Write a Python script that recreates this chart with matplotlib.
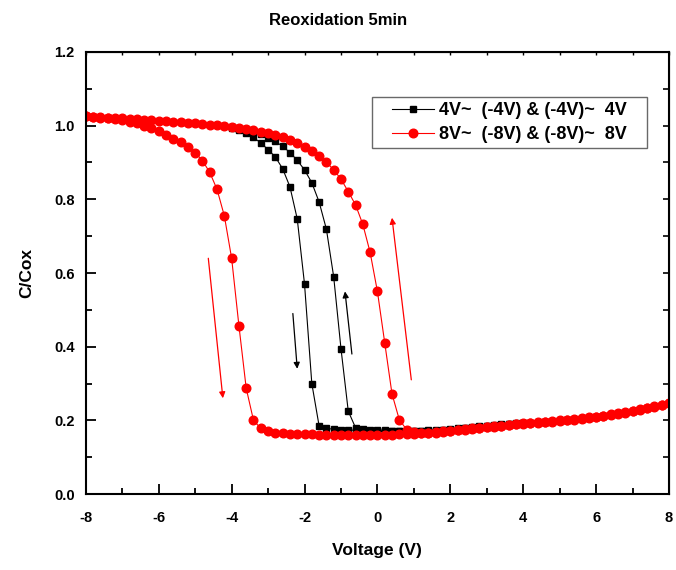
import numpy as np
import matplotlib
matplotlib.use("Agg")
from matplotlib import pyplot as plt
from matplotlib.legend_handler import HandlerLine2D

plt.rcParams['font.family'] = ['Liberation Sans', 'DejaVu Sans']
plt.rcParams['font.weight'] = 'bold'
plt.rcParams['axes.unicode_minus'] = False

# voltage sweep grids (0.2 V steps)
v_red = np.round(np.arange(-8.0, 8.01, 0.2), 1)
v_blk = np.round(np.arange(-4.0, 4.01, 0.2), 1)

# red: -8V -> 8V sweep (values at ascending voltage)
red_fwd = [1.025, 1.024, 1.022, 1.020, 1.017, 1.014, 1.010, 1.006, 1.000, 0.993,
           0.985, 0.975, 0.965, 0.955, 0.942, 0.927, 0.905, 0.873, 0.827, 0.755,
           0.640, 0.457, 0.287, 0.200, 0.178, 0.170, 0.167, 0.165, 0.164, 0.163,
           0.162, 0.162, 0.161, 0.161, 0.160, 0.160, 0.160, 0.160, 0.160, 0.160,
           0.160, 0.161, 0.161, 0.162, 0.163, 0.164, 0.165, 0.166, 0.167, 0.169,
           0.171, 0.173, 0.175, 0.177, 0.179, 0.181, 0.183, 0.185, 0.187, 0.189,
           0.190, 0.192, 0.193, 0.195, 0.196, 0.198, 0.200, 0.202, 0.204, 0.206,
           0.208, 0.211, 0.214, 0.217, 0.221, 0.225, 0.229, 0.233, 0.237, 0.241,
           0.246]
# red: 8V -> -8V sweep (values at ascending voltage)
red_back = [1.025, 1.024, 1.023, 1.022, 1.021, 1.020, 1.019, 1.017, 1.016, 1.015,
            1.013, 1.012, 1.011, 1.009, 1.008, 1.006, 1.005, 1.003, 1.001, 0.999,
            0.997, 0.994, 0.991, 0.987, 0.983, 0.979, 0.974, 0.968, 0.961, 0.953,
            0.943, 0.931, 0.917, 0.901, 0.880, 0.855, 0.821, 0.785, 0.732, 0.656,
            0.550, 0.410, 0.272, 0.202, 0.175, 0.168, 0.167, 0.167, 0.168, 0.170,
            0.172, 0.174, 0.176, 0.178, 0.180, 0.182, 0.184, 0.186, 0.188, 0.190,
            0.192, 0.193, 0.195, 0.196, 0.198, 0.200, 0.202, 0.204, 0.206, 0.208,
            0.210, 0.213, 0.216, 0.219, 0.222, 0.226, 0.230, 0.234, 0.238, 0.242,
            0.247]

# black: -4V -> 4V sweep
blk_fwd = [0.993, 0.988, 0.980, 0.968, 0.953, 0.935, 0.915, 0.883, 0.834, 0.747,
           0.570, 0.300, 0.185, 0.178, 0.176, 0.175, 0.174, 0.173, 0.172, 0.171,
           0.170, 0.170, 0.170, 0.170, 0.170, 0.170, 0.170, 0.171, 0.172, 0.173,
           0.174, 0.176, 0.178, 0.180, 0.182, 0.184, 0.186, 0.188, 0.189, 0.191,
           0.192]
# black: 4V -> -4V sweep (values at ascending voltage)
blk_back = [0.995, 0.992, 0.988, 0.983, 0.976, 0.967, 0.957, 0.944, 0.927, 0.906,
            0.880, 0.845, 0.793, 0.719, 0.590, 0.395, 0.225, 0.180, 0.177, 0.175,
            0.174, 0.173, 0.172, 0.172, 0.172, 0.172, 0.172, 0.173, 0.174, 0.175,
            0.176, 0.178, 0.180, 0.182, 0.184, 0.186, 0.188, 0.189, 0.191, 0.192,
            0.193]

# full loops: up sweep then back down
red_x = np.concatenate([v_red, v_red[::-1]])
red_y = np.concatenate([red_fwd, red_back[::-1]])
blk_x = np.concatenate([v_blk, v_blk[::-1]])
blk_y = np.concatenate([blk_fwd, blk_back[::-1]])

fig = plt.figure(figsize=(6.76, 5.70), dpi=100)
ax = fig.add_axes([0.127, 0.1333, 0.8626, 0.7755])

ax.plot(blk_x, blk_y, color='black', marker='s', markersize=5.0, linewidth=0.8,
        label='4V~  (-4V) & (-4V)~  4V   ')
ax.plot(red_x, red_y, color='red', marker='o', markersize=6.2, linewidth=0.8,
        label='8V~  (-8V) & (-8V)~  8V   ')

# sweep direction arrows
arrows = [((-4.64, 0.64), (-4.24, 0.26), 'red'),
          ((0.93, 0.31), (0.40, 0.75), 'red'),
          ((-2.32, 0.49), (-2.20, 0.34), 'black'),
          ((-0.70, 0.38), (-0.89, 0.55), 'black')]
for start, end, col in arrows:
    ax.annotate('', xy=end, xytext=start,
                arrowprops=dict(arrowstyle='-|>', color=col, lw=0.9,
                                mutation_scale=9, shrinkA=0, shrinkB=0))

ax.set_xlim(-8, 8)
ax.set_ylim(0.0, 1.2)
ax.set_xticks(np.arange(-8, 9, 2))
ax.set_xticks(np.arange(-8, 9, 1), minor=True)
ax.set_yticks(np.arange(0, 1.21, 0.2))
ax.set_yticks(np.arange(0, 1.21, 0.1), minor=True)
ax.yaxis.set_major_formatter(matplotlib.ticker.FormatStrFormatter('%.1f'))

ax.tick_params(which='both', direction='in', width=1.3, labelsize=10.5)
ax.tick_params(which='major', length=7)
ax.tick_params(which='minor', length=4.5)
ax.tick_params(axis='x', which='major', pad=12)
ax.tick_params(axis='y', which='major', pad=8)
for side in ax.spines:
    ax.spines[side].set_linewidth(1.5)

# short ticks on the top and right frame
top = ax.secondary_xaxis('top')
top.set_xticks(np.arange(-8, 9, 1))
top.tick_params(direction='in', length=2, width=1, labeltop=False)
right = ax.secondary_yaxis('right')
right.set_yticks(np.arange(0, 1.21, 0.1))
right.tick_params(direction='in', length=4, width=1.2, labelright=False)

ax.set_xlabel('Voltage (V)', fontsize=12.5, fontweight='bold', labelpad=13)
ax.set_ylabel('C/Cox', fontsize=12.5, fontweight='bold', labelpad=14)
fig.suptitle('Reoxidation 5min', fontsize=12, fontweight='bold', y=0.978)

leg = ax.legend(loc='upper right', bbox_to_anchor=(0.962, 0.898), fontsize=13,
                frameon=True, fancybox=False, borderpad=0.29, handlelength=3.15,
                handletextpad=0.28, labelspacing=0.37, borderaxespad=0,
                handler_map={matplotlib.lines.Line2D: HandlerLine2D(xpad=0.82)})
leg.get_frame().set_edgecolor('#444444')
leg.get_frame().set_linewidth(1.0)
for t in leg.get_texts():
    t.set_fontweight('bold')

plt.savefig('out.png', dpi=100)
